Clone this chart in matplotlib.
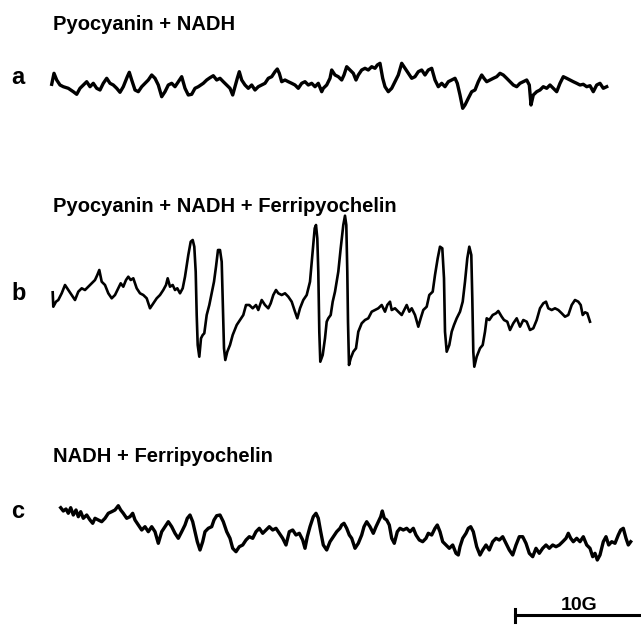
import matplotlib

matplotlib.use("Agg")
import matplotlib.pyplot as plt

# EPR traces (x: field position, y: signal, page units, y grows down)
a_field = [51.7, 54, 56.7, 60, 63.3, 68.3, 73.3, 76.7, 80, 83.3, 86.7, 90, 93.3, 96.7, 100, 103.3,
           106.7, 110, 113.3, 116.7, 120, 123.3, 127.3, 129.3, 131.7, 135, 138.3, 141.7, 145, 148.3,
           151.7, 155, 158.3, 161.7, 165, 168.3, 171.7, 175, 178.3, 181.7, 185, 188.3, 191.7, 195,
           198.3, 203.3, 206.7, 210, 213.3, 216.7, 220, 223.3, 226.7, 230, 232.7, 235, 237.3, 239.3,
           241.7, 245, 248.3, 251.7, 255, 258.3, 261.7, 265, 268.3, 271.7, 275, 277.3, 279.3, 281.7,
           285, 288.3, 291.7, 295, 298.3, 301.7, 305, 308.3, 311.7, 315, 318.3, 321.7, 323.3, 326.7,
           330, 331.7, 335, 338.3, 341.7, 344, 346.7, 350, 353.3, 356, 358.3, 361.7, 365, 368.3,
           371.7, 375, 377.3, 380, 382.7, 385, 388.3, 391.7, 395, 398.3, 401.7, 405, 408.3, 411.7,
           415, 418.3, 421.7, 425, 428.3, 431.7, 435, 438.3, 441.7, 445, 448.3, 451.7, 455, 457.3,
           460, 462.7, 465, 468.3, 471.7, 475, 478.3, 481.7, 484, 486.7, 490, 493.3, 496.7, 500,
           503.3, 506.7, 510, 513.3, 516.7, 520, 523.3, 526.7, 529.3, 531, 533.3, 536.7, 540, 543.3,
           546.7, 550, 553.3, 556.7, 560, 563.3, 566.7, 570, 573.3, 576.7, 580, 583.3, 586.7, 590,
           593.3, 596.7, 600, 603.3, 606.7]
a_signal = [84.3, 73.3, 80, 85, 86.7, 88.3, 91.7, 94.3, 88.3, 85, 81.7, 86.7, 83.3, 88.3, 90, 83.3,
            78.3, 83.3, 85, 88.3, 92.3, 86.7, 76.7, 72.3, 80, 90, 91.7, 86.7, 83.3, 80,
            75, 78.3, 85, 96.7, 91.7, 85, 83.3, 86.7, 81.7, 76.7, 88.3, 95, 94.3, 88.3,
            86.7, 83.3, 80, 77.7, 75.7, 80, 78.3, 81.7, 85, 88.3, 95, 86.7, 78.3, 71.7,
            80, 85, 88.3, 85, 90, 86.7, 85, 83.3, 78.3, 76.7, 71.7, 69, 73.3, 81.7,
            80, 81.7, 83.3, 85, 88.3, 83.3, 81.7, 85, 83.3, 86.7, 83.3, 91.7, 88.3, 85,
            78.3, 70, 75, 76.7, 80, 75, 66.7, 70, 73.3, 80, 75, 70, 68.3, 70,
            66.7, 68.3, 65, 63.3, 78.3, 86.7, 91.7, 88.3, 81.7, 75, 63.3, 68.3, 73.3, 78.3,
            76.7, 71.7, 70, 75, 70, 68.3, 80, 86.7, 83.3, 86.7, 81.7, 80, 78.3, 83.3,
            95, 108.3, 105, 98.3, 91.7, 90, 81.7, 75, 78.3, 81.7, 80, 78.3, 76.7, 73.3,
            75, 78.3, 81.7, 85, 86.7, 83.3, 81.7, 80, 85, 105, 95, 91.7, 90, 86.7,
            88.3, 85, 88.3, 91.7, 83.3, 76.7, 78.3, 80, 81.7, 83.3, 85, 84.3, 86.7, 85.7,
            91.7, 85, 83.3, 88.3, 86.7]

b_field = [52.7, 53.3, 56, 58.3, 61.7, 65, 68.3, 71.7, 75, 78.3, 81.7, 85, 88.3, 91.7, 95, 97.3,
           99.3, 101.7, 105, 108.3, 111.7, 115, 118.3, 120.7, 123.3, 126, 128.3, 130.7, 133.3,
           136.7, 140, 143.3, 146.7, 150, 153.3, 156.7, 160, 163.3, 166, 167.7, 170, 172.7, 175,
           177.3, 180, 182.7, 185, 188.3, 190.7, 192.7, 194.3, 195.7, 196.7, 197.7, 199.3, 201,
           202.7, 204.3, 206.7, 209.3, 211.7, 214, 216, 218, 220, 221.7, 222.7, 224, 225.3, 227.3,
           230, 232.7, 236.7, 240, 243.3, 246, 249.3, 252.7, 256, 258.3, 261.7, 265, 268.3, 270.7,
           273.3, 276, 278.3, 281.7, 285, 288.3, 291.7, 295, 297.3, 300, 303.3, 306.7, 310,
           312.7, 314.7, 316, 317.3, 318.3, 319.3, 320.3, 322.7, 325, 326.7, 328.3, 330.7, 332.7,
           335, 338.3, 340.7, 343.3, 345, 346.3, 347.3, 348, 349, 350.7, 353.3, 356, 358.3, 361.7,
           365, 368.3, 371.7, 375, 378.3, 381.7, 385, 387.3, 390, 391.7, 395, 398.3, 401.7, 405,
           406.7, 409.3, 411.7, 415, 418.3, 420.7, 423.3, 426.7, 429.3, 432.7, 435, 437.7, 440,
           442.3, 444, 445, 446.7, 449.3, 451.7, 454, 456.7, 460, 462.7, 465, 467.3, 469.3, 471.3,
           472.3, 473.3, 474.3, 476.7, 480, 482.7, 485, 486.7, 489.3, 492.7, 496, 498.3, 501.7,
           504, 507.3, 510, 513.3, 516.7, 520, 523.3, 526.7, 530, 533.3, 536.7, 540, 543.3, 546,
           548.3, 551.7, 555, 558.3, 561.7, 565, 568.3, 571.7, 575, 578.3, 580.7, 582.7, 585,
           587.3, 590]
b_signal = [292.3, 306.7, 301.7, 300, 293.3, 285, 290, 295, 300, 291.7, 288.3, 290, 286.7, 283.3,
            280, 275, 270, 281.7, 285, 293.3, 298.3, 295, 288.3, 283.3, 286.7, 280, 276.7, 280,
            278.3, 288.3, 293.3, 295, 298.3, 308.3, 303.3, 298.3, 295, 290, 285, 278.3, 286.7,
            285, 290, 288.3, 293.3, 288.3, 276.7, 255, 241.7, 240, 246.7, 271.7, 315, 345,
            356.7, 338.3, 335, 333.3, 315, 305, 293.3, 281.7, 266.7, 250, 250, 261.7, 298.3,
            348.3, 360, 351.7, 345, 335, 325, 320, 315, 305, 305, 308.3, 305, 310, 300, 305,
            308.3, 303.3, 295, 290, 293.3, 295, 293.3, 296.7, 301.7, 311.7, 318.3, 308.3, 300,
            295, 281.7, 251.7, 228.3, 225, 238.3, 271.7, 331.7, 361.7, 355, 338.3, 321.7, 318.3,
            315, 301.7, 291.7, 271.7, 248.3, 225, 215.7, 225, 271.7, 321.7, 365, 358.3, 351.7,
            348.3, 331.7, 323.3, 320, 318.3, 311.7, 310, 308.3, 305, 311.7, 305, 301.7, 310,
            308.3, 311.7, 315, 308.3, 305, 311.7, 308.3, 315, 326.7, 318.3, 310, 306.7, 295,
            291.7, 275, 258.3, 246.7, 248.3, 278.3, 331.7, 351.7, 345, 331.7, 325, 318.3, 311.7,
            301.7, 281.7, 258.3, 246.7, 255, 298.3, 351.7, 366.7, 356.7, 348.3, 345, 331.7,
            318.3, 320, 315, 313.3, 311, 316.7, 320, 321.7, 330, 323.3, 318.3, 326.7, 320,
            321.7, 330, 328.3, 320, 308.3, 303.3, 301.7, 308.3, 310, 308.3, 310, 313.3, 316.7,
            315, 305, 300, 301.7, 305, 315, 312.3, 313.3, 321.7]

c_field = [60.7, 63.3, 66, 68.3, 70.7, 73.3, 76, 78.3, 80.7, 83.3, 86.7, 90, 92.7, 95, 98.3, 101.7,
           105, 108.3, 111.7, 115, 118.3, 120.7, 123.3, 126.7, 130, 132.7, 135, 138.3, 141.7, 145,
           148.3, 151.7, 155, 158.3, 161.7, 165, 168.3, 171.7, 175, 178.3, 181.7, 185, 187.3, 190,
           192.7, 195, 197.3, 200, 202.7, 205, 208.3, 211.7, 214, 216.7, 220, 223.3, 226.7, 230,
           232.7, 236, 239.3, 242.7, 246, 249.3, 252.7, 256, 259.3, 262.7, 266, 269.3, 272.7, 276,
           279.3, 282.7, 286, 289.3, 292.7, 296, 299.3, 302.7, 305, 307.3, 310, 313.3, 316, 318.3,
           320.7, 323.3, 326.7, 330, 333.3, 336.7, 340, 341.7, 344, 346.7, 349.3, 351.7, 355,
           358.3, 361.7, 364, 366.7, 370, 373.3, 376, 378.3, 380.7, 382.3, 384.3, 386.7, 389.3,
           391.7, 394.3, 397.3, 400, 403.3, 406.7, 410, 413.3, 416, 419.3, 422.7, 426, 428.3,
           431.7, 435, 437.3, 440, 442.7, 446, 449.3, 452.7, 456, 458.3, 460, 462.7, 466, 468.3,
           470.7, 473.3, 476.7, 480, 482.7, 486, 489.3, 492.7, 496, 499.3, 502.7, 506, 509.3,
           512.7, 516, 519.3, 522.7, 526, 529.3, 532.7, 536, 539.3, 542.7, 546, 549.3, 552.7, 556,
           559.3, 562.7, 566, 568.3, 570.7, 573.3, 576.7, 580, 583.3, 586.7, 590, 592.7, 595,
           597.3, 600, 603.3, 606, 608.7, 611.7, 615, 618.3, 620.7, 623.3, 626, 628.3, 630.7]
c_signal = [507.7, 511, 509, 513.3, 507.7, 515, 510, 516.7, 511.7, 518.3, 515, 520, 523.3, 518.3,
            520, 521.7, 518.3, 513.3, 511.7, 510, 505.7, 510, 513.3, 518.3, 516.7, 513.3, 520,
            525, 530, 526.7, 531.7, 526.7, 531.7, 543.3, 531.7, 526.7, 521.7, 526.7, 533.3,
            538.3, 531.7, 525, 518.3, 515, 521.7, 531.7, 541.7, 550, 541.7, 531.7, 528.3, 526.7,
            520, 515.7, 515, 521.7, 531.7, 538.3, 548.3, 551.7, 546.7, 545, 540, 536.7, 538.3,
            531.7, 528.3, 533.3, 530, 526.7, 530, 528.3, 533.3, 538.3, 545, 531.7, 530, 535,
            533.3, 540, 548.3, 536.7, 526.7, 516.7, 513.3, 518.3, 531.7, 545, 550, 541.7, 536.7,
            531.7, 528.3, 525, 523.3, 528.3, 535, 538.3, 548.3, 543.3, 535, 526.7, 521.7, 526.7,
            533.3, 526.7, 521.7, 516.7, 511, 518.3, 520, 525, 538.3, 543.3, 531.7, 528.3, 530,
            528.3, 531.7, 528.3, 535, 540, 541.7, 538.3, 533.3, 535, 528.3, 525, 531.7, 541.7,
            545, 548.3, 545, 553.3, 555, 546.7, 538.3, 533.3, 528.3, 526.7, 531.7, 546.7, 555,
            550, 545, 550, 541.7, 538.3, 540, 536.7, 543.3, 550, 555, 545, 536.7, 536.7, 543.3,
            553.3, 556.7, 548.3, 553.3, 548.3, 545, 548.3, 545, 546.7, 545, 541.7, 538.3, 533.3,
            538.3, 541.7, 538.3, 541.7, 536.7, 545, 548.3, 556.7, 553.3, 560, 555, 541.7, 536.7,
            545, 541.7, 543.3, 535, 530, 528.3, 538.3, 545, 541.7]

traces = [
    ("a", "Pyocyanin + NADH", a_field, a_signal, 25, 78, 2.4),
    ("b", "Pyocyanin + NADH + Ferripyochelin", b_field, b_signal, 206, 294, 1.9),
    ("c", "NADH + Ferripyochelin", c_field, c_signal, 457, 512, 2.4),
]

scale_start = 515
scale_width = 126  # 10 G
scale_label = "10G"

plt.rcParams["font.family"] = ["Liberation Sans", "DejaVu Sans"]

fig = plt.figure(figsize=(6.41, 6.26), dpi=100)
ax = fig.add_axes([0, 0, 1, 1])
ax.set_xlim(0, 641)
ax.set_ylim(626, 0)
ax.axis("off")

for letter, title, field, signal, title_y, letter_y, lw in traces:
    ax.plot(field, signal, color="black", linewidth=lw, solid_joinstyle="round")
    ax.text(53, title_y, title, fontsize=14.5, fontweight="bold", ha="left", va="center")
    ax.text(11, letter_y, letter, fontsize=17, fontweight="bold", ha="left", va="center")

ax.plot([scale_start, scale_start + scale_width], [615, 615], color="black", linewidth=2.2)
ax.plot([scale_start, scale_start], [609, 622], color="black", linewidth=2.2)
ax.text(scale_start + 64, 606, scale_label, fontsize=14, fontweight="bold",
        ha="center", va="center")

fig.savefig("out.png", dpi=100)
plt.close(fig)
